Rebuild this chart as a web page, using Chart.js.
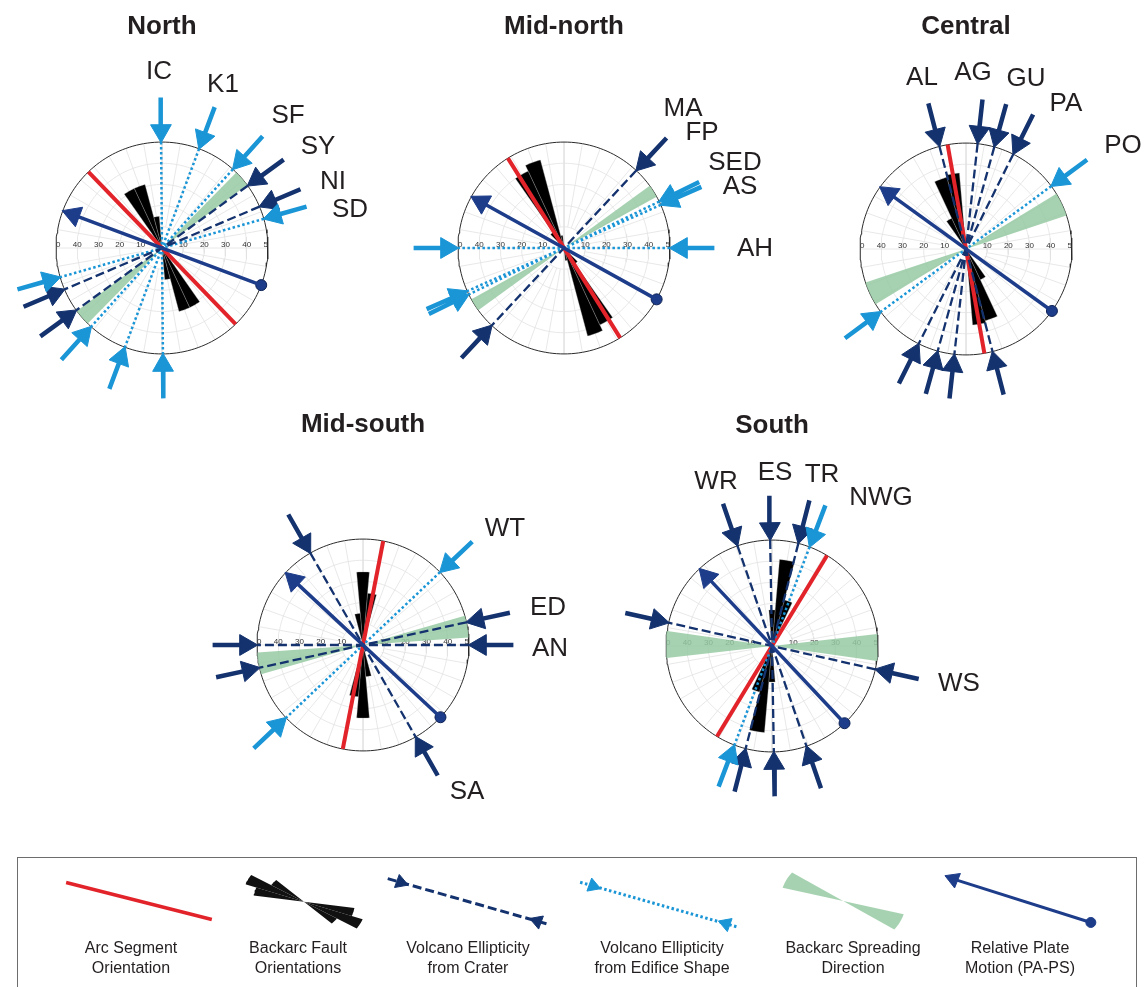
<!DOCTYPE html>
<html><head><meta charset="utf-8">
<script src="https://cdn.jsdelivr.net/npm/chart.js@4.4.1/dist/chart.umd.min.js"></script>
<style>
html,body{margin:0;padding:0;background:#fff}
#page{position:relative;width:1146px;height:987px;overflow:hidden;font-family:"Liberation Sans",Arial,Helvetica,sans-serif;color:#231f20}
.panel{position:absolute;width:480px;height:480px}
.lbl{position:absolute;transform:translate(-50%,-50%);font-size:26px;line-height:1;white-space:nowrap;z-index:5}
.ttl{position:absolute;transform:translate(-50%,-50%);font-size:26px;font-weight:bold;line-height:1;white-space:nowrap;z-index:5}
#legendBox{position:absolute;left:17px;top:857px;width:1120px;height:140px;border:1px solid #6d6d6d;box-sizing:border-box}
#legendCanvas{position:absolute;left:17px;top:858px}
.cap{position:absolute;transform:translateX(-50%);font-size:16px;line-height:20px;text-align:center;white-space:nowrap;z-index:5}
</style></head>
<body><div id="page"></div>
<script>
// ================= DATA (azimuths in degrees clockwise from north) =================
// Rose scale
const ringValues = [10, 20, 30, 40, 50];
const tickLabels = ['10', '20', '30', '40', '50'];
const spokeStep = 10;
const faultBinWidth = 10;

// ---- North ----
const northFaultAz = [330, 340, 350];
const northFaultPct = [31, 31, 15];
const northArcAz = 136;
const northCraterNames = ['SY', 'NI'];
const northCraterAz = [54, 67];
const northEdificeNames = ['IC', 'K1', 'SF', 'SD'];
const northEdificeAz = [359.5, 20.5, 42, 74];
const northSpreadAz = 49;
const northSpreadHalfWidth = 4.5;
const northPlateAz = 290.5;

// ---- Mid-north ----
const midNorthFaultAz = [320, 330, 340, 350];
const midNorthFaultPct = [9, 40, 43, 6];
const midNorthArcAz = 148;
const midNorthCraterNames = ['MA/FP'];
const midNorthCraterAz = [43];
const midNorthEdificeNames = ['SED', 'AS', 'AH'];
const midNorthEdificeAz = [64, 66, 90];
const midNorthSpreadAz = 57.5;
const midNorthSpreadHalfWidth = 3.5;
const midNorthPlateAz = 299;

// ---- Central ----
const centralFaultAz = [330, 340, 350];
const centralFaultPct = [16, 35, 36];
const centralArcAz = 350;
const centralCraterNames = ['AL', 'AG', 'GU', 'PA'];
const centralCraterAz = [345.5, 6.3, 15.5, 26.5];
const centralEdificeNames = ['PO'];
const centralEdificeAz = [53.6];
const centralSpreadAz = 65;
const centralSpreadHalfWidth = 6.5;
const centralPlateAz = 305.8;

// ---- Mid-south ----
const midSouthFaultAz = [350, 0, 10];
const midSouthFaultPct = [15, 34.5, 24.5];
const midSouthArcAz = 11;
const midSouthCraterNames = ['ED', 'AN', 'SA'];
const midSouthCraterAz = [77.6, 90, 330.2];
const midSouthEdificeNames = ['WT'];
const midSouthEdificeAz = [46.6];
const midSouthSpreadAz = 80;
const midSouthSpreadHalfWidth = 6;
const midSouthPlateAz = 313;

// ---- South ----
const southFaultAz = [0, 10, 20];
const southFaultPct = [17, 41, 22.5];
const southArcAz = 31.3;
const southCraterNames = ['WR', 'ES', 'TR', 'WS'];
const southCraterAz = [341, 359, 14.4, 102.7];
const southEdificeNames = ['NWG'];
const southEdificeAz = [20.8];
const southSpreadAz = 90.8;
const southSpreadHalfWidth = 7.3;
const southPlateAz = 316.8;

// Legend captions
const legendCaptions = [
  ['Arc Segment', 'Orientation'],
  ['Backarc Fault', 'Orientations'],
  ['Volcano Ellipticity', 'from Crater'],
  ['Volcano Ellipticity', 'from Edifice Shape'],
  ['Backarc Spreading', 'Direction'],
  ['Relative Plate', 'Motion (PA-PS)']
];

// ================= LAYOUT / STYLE =================
const U = 2.24;           // px per rose unit (rim 50 -> 112 px)
const CAN = 480;
const HALF = CAN / 2 / U;
const RIM = 50;
const HEAD_R = 12;
const ARROW_LEN = 47;
const COL = {navy:'#14326e', plate:'#1d3c8a', sky:'#1a95d6', red:'#e2232a',
  green:'rgba(150,202,163,0.85)', grid:'#e2e2e2', rim:'#2a2a2a'};

const panels = [
  {title:'North', cx:162, cy:248, ty:25, faultAz:northFaultAz, faultPct:northFaultPct, arcAz:northArcAz,
   craterAz:northCraterAz, edificeAz:northEdificeAz, spreadAz:northSpreadAz, spreadHW:northSpreadHalfWidth, plateAz:northPlateAz,
   labels:[['IC',159,70],['K1',223,83],['SF',288,114],['SY',318,145],['NI',333,180],['SD',350,208]]},
  {title:'Mid-north', cx:564, cy:248, ty:25, faultAz:midNorthFaultAz, faultPct:midNorthFaultPct, arcAz:midNorthArcAz,
   craterAz:midNorthCraterAz, edificeAz:midNorthEdificeAz, spreadAz:midNorthSpreadAz, spreadHW:midNorthSpreadHalfWidth, plateAz:midNorthPlateAz,
   labels:[['MA',683,107],['FP',702,131],['SED',735,161],['AS',740,185],['AH',755,247]]},
  {title:'Central', cx:966, cy:249, ty:25, faultAz:centralFaultAz, faultPct:centralFaultPct, arcAz:centralArcAz,
   craterAz:centralCraterAz, edificeAz:centralEdificeAz, spreadAz:centralSpreadAz, spreadHW:centralSpreadHalfWidth, plateAz:centralPlateAz,
   labels:[['AL',922,76],['AG',973,71],['GU',1026,77],['PA',1066,102],['PO',1123,144]]},
  {title:'Mid-south', cx:363, cy:645, ty:423, faultAz:midSouthFaultAz, faultPct:midSouthFaultPct, arcAz:midSouthArcAz,
   craterAz:midSouthCraterAz, edificeAz:midSouthEdificeAz, spreadAz:midSouthSpreadAz, spreadHW:midSouthSpreadHalfWidth, plateAz:midSouthPlateAz,
   labels:[['WT',505,527],['ED',548,606],['AN',550,647],['SA',467,790]]},
  {title:'South', cx:772, cy:646, ty:424, faultAz:southFaultAz, faultPct:southFaultPct, arcAz:southArcAz,
   craterAz:southCraterAz, edificeAz:southEdificeAz, spreadAz:southSpreadAz, spreadHW:southSpreadHalfWidth, plateAz:southPlateAz,
   labels:[['WR',716,480],['ES',775,471],['TR',822,473],['NWG',881,496],['WS',959,682]]}
];

// ================= HELPERS =================
const GAP = {x:null, y:null};
function pol(az, r){ const a = az*Math.PI/180; return {x:r*Math.sin(a), y:r*Math.cos(a)}; }
function arcPts(a0, a1, r, n){ const p=[]; for(let i=0;i<=n;i++) p.push(pol(a0+(a1-a0)*i/n, r)); return p; }
function sector(a0, a1, r){ return [{x:0,y:0}].concat(arcPts(a0,a1,r,Math.max(4,Math.ceil(Math.abs(a1-a0)/1.5)))).concat([{x:0,y:0}]); }
function lineDs(data, color, width, order, extra){
  return Object.assign({data, showLine:true, borderColor:color, backgroundColor:color, borderWidth:width,
    pointRadius:0, pointHoverRadius:0, fill:false, tension:0, order, borderCapStyle:'butt'}, extra||{});
}
function shapeDs(data, color, order, extra){
  return Object.assign({data, showLine:true, fill:'shape', backgroundColor:color, borderColor:color,
    borderWidth:0, pointRadius:0, pointHoverRadius:0, tension:0, order}, extra||{});
}
function throughLines(azList){
  const d=[]; azList.forEach(az=>{ d.push(pol(az,RIM), pol(az+180,RIM), GAP); }); return d;
}
function inwardArrows(azList, color, order){
  const shaft=[], heads=[], rot=[];
  azList.forEach(az=>[az, az+180].forEach(a=>{
    shaft.push(pol(a, RIM+(1.5*HEAD_R-1.5)/U), pol(a, RIM+ARROW_LEN/U), GAP);
    heads.push(pol(a, RIM+HEAD_R/U)); rot.push(a+180);
  }));
  return [lineDs(shaft, color, 4.5, order),
    {data:heads, showLine:false, pointStyle:'triangle', pointRadius:HEAD_R, pointHoverRadius:HEAD_R,
     pointRotation:rot, pointBackgroundColor:color, pointBorderColor:color, pointBorderWidth:1, order}];
}

const roseTickPlugin = {
  id:'roseTicks',
  afterDatasetDraw(chart, args){
    const d = chart.data.datasets[args.index];
    if (d.role !== 'rim') return;
    const xs = chart.scales.x, ys = chart.scales.y, ctx = chart.ctx;
    const cx = xs.getPixelForValue(0), cy = ys.getPixelForValue(0);
    const rpx = xs.getPixelForValue(RIM) - cx;
    ctx.save();
    ctx.beginPath(); ctx.arc(cx, cy, rpx, 0, Math.PI*2); ctx.clip();
    ctx.font = '8px "Liberation Sans", Arial, sans-serif';
    ctx.fillStyle = '#333'; ctx.textAlign = 'center'; ctx.textBaseline = 'alphabetic';
    ringValues.forEach((v,i)=>{ [-1,1].forEach(s=>ctx.fillText(tickLabels[i], xs.getPixelForValue(s*v), cy-1.5)); });
    ctx.restore();
  }
};

function buildRose(p){
  const ds = [];
  // grid rings & spokes
  ringValues.slice(0,-1).forEach(v=>ds.push(lineDs(arcPts(0,360,v,144), COL.grid, 0.8, 100)));
  const spokes=[];
  for(let a=0;a<180;a+=spokeStep){
    if (a%90===0) spokes.push(pol(a,RIM), pol(a+180,RIM), GAP);
    else { spokes.push(pol(a,ringValues[0]), pol(a,RIM), GAP, pol(a+180,ringValues[0]), pol(a+180,RIM), GAP); }
  }
  ds.push(lineDs(spokes, COL.grid, 0.8, 100));
  ds.push(lineDs(arcPts(0,360,RIM,180), COL.rim, 1, 99, {role:'rim'}));
  // spreading wedge (bow-tie)
  [p.spreadAz, p.spreadAz+180].forEach(a=>ds.push(shapeDs(sector(a-p.spreadHW, a+p.spreadHW, RIM), COL.green, 8)));
  // fault rose petals (bidirectional)
  p.faultAz.forEach((az,i)=>[0,180].forEach(off=>{
    ds.push(shapeDs(sector(az+off-faultBinWidth/2, az+off+faultBinWidth/2, p.faultPct[i]), '#000', 7,
      {borderColor:'rgba(170,170,170,0.9)', borderWidth:0.35}));
  }));
  // arc segment orientation
  ds.push(lineDs([pol(p.arcAz,RIM), pol(p.arcAz+180,RIM)], COL.red, 4, 6));
  // edifice (dotted) and crater (dashed)
  ds.push(lineDs(throughLines(p.edificeAz), COL.sky, 2.5, 5, {borderDash:[2.5,2.5]}));
  ds.push(lineDs(throughLines(p.craterAz), COL.navy, 2.3, 4, {borderDash:[9,4]}));
  inwardArrows(p.edificeAz, COL.sky, 3).forEach(d=>ds.push(d));
  inwardArrows(p.craterAz, COL.navy, 3).forEach(d=>ds.push(d));
  // plate motion
  ds.push(lineDs([pol(p.plateAz+180,RIM), pol(p.plateAz, RIM-(1.5*HEAD_R-1.5)/U)], COL.plate, 3.5, 1));
  ds.push({data:[pol(p.plateAz, RIM-HEAD_R/U)], showLine:false, pointStyle:'triangle', pointRadius:HEAD_R,
    pointHoverRadius:HEAD_R, pointRotation:p.plateAz, pointBackgroundColor:COL.plate, pointBorderColor:COL.plate, pointBorderWidth:1, order:1});
  ds.push({data:[pol(p.plateAz+180,RIM)], showLine:false, pointStyle:'circle', pointRadius:5.5, pointHoverRadius:5.5,
    pointBackgroundColor:COL.plate, pointBorderColor:'#0e2255', pointBorderWidth:1, order:1});
  return ds;
}

const page = document.getElementById('page');
panels.forEach(p=>{
  const c = document.createElement('canvas');
  c.className='panel'; c.width=CAN; c.height=CAN;
  c.style.left=(p.cx-CAN/2)+'px'; c.style.top=(p.cy-CAN/2)+'px';
  page.appendChild(c);
  new Chart(c, {
    type:'scatter',
    data:{datasets:buildRose(p)},
    options:{responsive:false, animation:false, devicePixelRatio:1, events:[],
      layout:{padding:0},
      plugins:{legend:{display:false}, tooltip:{enabled:false}, title:{display:false}},
      scales:{x:{type:'linear', min:-HALF, max:HALF, display:false},
              y:{type:'linear', min:-HALF, max:HALF, display:false}}},
    plugins:[roseTickPlugin]
  });
  const t=document.createElement('div'); t.className='ttl'; t.textContent=p.title;
  t.style.left=p.cx+'px'; t.style.top=p.ty+'px'; page.appendChild(t);
  p.labels.forEach(([txt,x,y])=>{ const d=document.createElement('div'); d.className='lbl'; d.textContent=txt;
    d.style.left=x+'px'; d.style.top=y+'px'; page.appendChild(d); });
});

// ================= LEGEND =================
const box=document.createElement('div'); box.id='legendBox'; page.appendChild(box);
const lc=document.createElement('canvas'); lc.id='legendCanvas'; lc.width=1120; lc.height=86; page.appendChild(lc);
function lp(cx,cy,deg,r){ const a=deg*Math.PI/180; return {x:cx+r*Math.cos(a), y:cy+r*Math.sin(a)}; }
function lsector(cx,cy,a0,a1,r){ const pts=[{x:cx,y:cy}]; for(let i=0;i<=8;i++) pts.push(lp(cx,cy,a0+(a1-a0)*i/8,r)); pts.push({x:cx,y:cy}); return pts; }
const legendCaptionX = [131, 298, 468, 662, 853, 1020];
const legendIconCentre = [[114,43],[282,44],[450,44],[644,48],[831,43],[1009,41]];
const legendIconAngle = [18, 27, 20, 20, 25.6, 22];
const legendIconHalf = [78, 62, 88, 86, 64, 80];
const legendFaultOffsets = [-12, 0, 12];
const legendFaultLen = [52, 64, 40];
const lds=[];
(function(){
  // 1 arc segment
  let [cx,cy]=legendIconCentre[0], a=legendIconAngle[0], h=legendIconHalf[0];
  lds.push(lineDs([lp(cx,cy,a+180,h), lp(cx,cy,a,h)], COL.red, 3.5, 5));
  // 2 fault bow-tie
  [cx,cy]=legendIconCentre[1]; a=legendIconAngle[1];
  legendFaultOffsets.forEach((o,i)=>[a, a+180].forEach(b=>lds.push(shapeDs(lsector(cx,cy,b+o-6,b+o+6,legendFaultLen[i]), '#111', 5))));
  // 3 & 4 dashed / dotted with inward heads
  [[2,COL.navy,[9,4]],[3,COL.sky,[2.5,2.5]]].forEach(([k,col,dash])=>{
    const [x,y]=legendIconCentre[k], an=legendIconAngle[k], hh=legendIconHalf[k];
    lds.push(lineDs([lp(x,y,an+180,hh), lp(x,y,an,hh)], col, 3, 4, {borderDash:dash}));
    lds.push({data:[lp(x,y,an+180,hh-14), lp(x,y,an,hh-14)], showLine:false, pointStyle:'triangle', pointRadius:8,
      pointRotation:[an+90, an-90], pointBackgroundColor:col, pointBorderColor:col, pointBorderWidth:1, order:3});
  });
  // 5 spreading bow-tie
  [cx,cy]=legendIconCentre[4]; a=legendIconAngle[4]; h=legendIconHalf[4];
  [a, a+180].forEach(b=>lds.push(shapeDs(lsector(cx,cy,b-10,b+10,h), COL.green, 6)));
  // 6 plate motion
  [cx,cy]=legendIconCentre[5]; a=legendIconAngle[5]; h=legendIconHalf[5];
  lds.push(lineDs([lp(cx,cy,a,h), lp(cx,cy,a+180,h-12)], COL.plate, 3, 2));
  lds.push({data:[lp(cx,cy,a+180,h-9)], showLine:false, pointStyle:'triangle', pointRadius:9, pointRotation:[a-90],
    pointBackgroundColor:COL.plate, pointBorderColor:COL.plate, pointBorderWidth:1, order:1});
  lds.push({data:[lp(cx,cy,a,h)], showLine:false, pointStyle:'circle', pointRadius:5, pointBackgroundColor:COL.plate,
    pointBorderColor:COL.plate, order:1});
})();
new Chart(lc, {
  type:'scatter', data:{datasets:lds},
  options:{responsive:false, animation:false, devicePixelRatio:1, events:[], layout:{padding:0},
    plugins:{legend:{display:false}, tooltip:{enabled:false}},
    scales:{x:{type:'linear', min:0, max:1120, display:false}, y:{type:'linear', min:0, max:86, reverse:true, display:false}}}
});
legendCaptions.forEach((lines,i)=>{
  const d=document.createElement('div'); d.className='cap';
  d.innerHTML=lines.join('<br>'); d.style.left=legendCaptionX[i]+'px'; d.style.top='938px'; page.appendChild(d);
});
</script></body></html>
